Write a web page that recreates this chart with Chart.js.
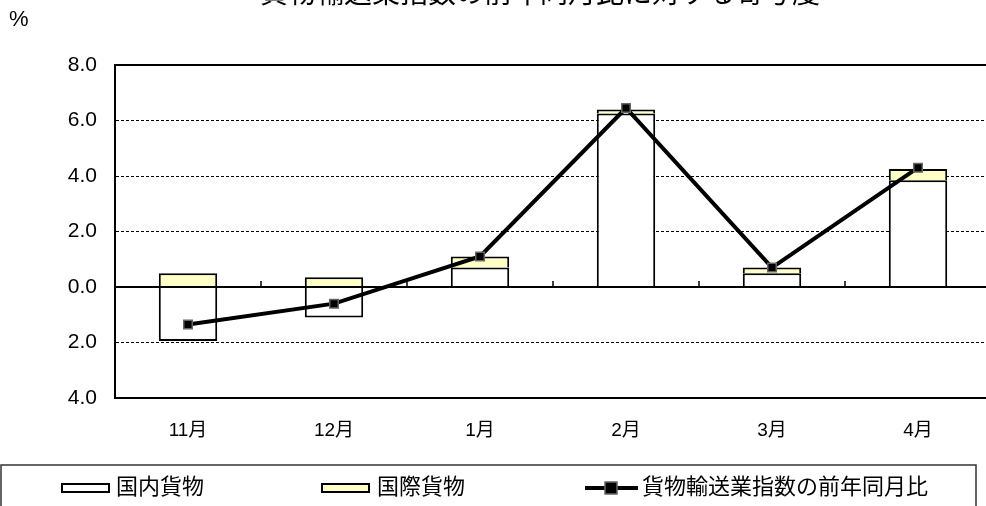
<!DOCTYPE html>
<html>
<head>
<meta charset="utf-8">
<script src="https://cdn.jsdelivr.net/npm/chart.js@4.4.0/dist/chart.umd.min.js"></script>
<style>
html, body { margin: 0; padding: 0; background: #fff; overflow: hidden; width: 986px; height: 506px; }
#wrap { position: absolute; left: 0; top: -20px; width: 1000px; height: 546px; }
</style>
</head>
<body>
<div id="wrap"><canvas id="chart"></canvas></div>
<script>
var months = ['11月', '12月', '1月', '2月', '3月', '4月'];
var domestic = [-1.95, -1.1, 0.7, 6.25, 0.5, 3.85];
var international = [0.5, 0.35, 0.4, 0.15, 0.2, 0.4];
var total = [-1.35, -0.6, 1.1, 6.45, 0.7, 4.3];
var titleText = '貨物輸送業指数の前年同月比に対する寄与度';

var jpFont = '"Liberation Sans", "Noto Sans CJK JP", sans-serif';
var solidAt = [-4, 0, 8];

// title, % unit, small ticks on the zero line, boxed legend
var extras = {
  id: 'extras',
  afterDraw: function (chart) {
    var c = chart.ctx;
    var x = chart.scales.x, y = chart.scales.y;
    c.save();
    c.fillStyle = '#000';
    c.textBaseline = 'middle';
    c.font = '28px ' + jpFont;
    c.textAlign = 'center';
    c.fillText(titleText, 540, 15);
    c.textAlign = 'left';
    c.font = '22px ' + jpFont;
    c.fillText('%', 9, 40);

    // category boundary ticks on the 0 line
    var y0 = y.getPixelForValue(0);
    c.strokeStyle = '#000';
    c.lineWidth = 1.5;
    for (var i = 0; i < months.length - 1; i++) {
      var bx = (x.getPixelForValue(i) + x.getPixelForValue(i + 1)) / 2;
      c.beginPath();
      c.moveTo(bx, y0);
      c.lineTo(bx, y0 - 6);
      c.stroke();
    }

    // legend box
    var ds = chart.data.datasets;
    c.strokeStyle = '#333';
    c.lineWidth = 1.5;
    c.strokeRect(1, 485, 975, 70);
    c.font = '22px ' + jpFont;
    var ly = 508;
    c.lineWidth = 2;
    c.fillStyle = ds[0].backgroundColor;
    c.fillRect(62, ly - 4, 47, 8);
    c.strokeStyle = '#000';
    c.strokeRect(62, ly - 4, 47, 8);
    c.fillStyle = '#000';
    c.fillText(ds[0].label, 116, ly);

    c.fillStyle = ds[1].backgroundColor;
    c.fillRect(322, ly - 4, 47, 8);
    c.strokeRect(322, ly - 4, 47, 8);
    c.fillStyle = '#000';
    c.fillText(ds[1].label, 377, ly);

    c.lineWidth = 4;
    c.beginPath();
    c.moveTo(585, ly);
    c.lineTo(638, ly);
    c.stroke();
    c.fillStyle = '#000';
    c.fillRect(605, ly - 6, 12, 12);
    c.strokeStyle = '#666';
    c.lineWidth = 1.5;
    c.strokeRect(605, ly - 6, 12, 12);
    c.fillStyle = '#000';
    c.fillText(ds[2].label, 642, ly);
    c.restore();
  }
};

var ctx = document.getElementById('chart');
var myChart = new Chart(ctx, {
  type: 'bar',
  data: {
    labels: months,
    datasets: [
      {
        label: '国内貨物',
        data: domestic,
        backgroundColor: '#ffffff',
        borderColor: '#000',
        borderWidth: 2,
        barPercentage: 0.4,
        categoryPercentage: 1,
        stack: 'bars',
        order: 2
      },
      {
        label: '国際貨物',
        data: international,
        backgroundColor: '#ffffc6',
        borderColor: '#000',
        borderWidth: 2,
        barPercentage: 0.4,
        categoryPercentage: 1,
        stack: 'bars',
        order: 2
      },
      {
        type: 'line',
        label: '貨物輸送業指数の前年同月比',
        data: total,
        borderColor: '#000',
        borderWidth: 4,
        tension: 0,
        pointStyle: 'rect',
        pointRadius: 6,
        pointBackgroundColor: '#000',
        pointBorderColor: '#666',
        pointBorderWidth: 1.5,
        stack: 'line',
        order: 0
      }
    ]
  },
  options: {
    responsive: true,
    maintainAspectRatio: false,
    animation: false,
    layout: { padding: { top: 85, right: 9, bottom: 68, left: 0 } },
    plugins: {
      legend: { display: false },
      tooltip: { enabled: false }
    },
    scales: {
      x: {
        stacked: true,
        grid: { display: false },
        border: { display: true, color: '#000', width: 2 },
        ticks: { color: '#000', font: { size: 19, family: jpFont }, padding: 13, maxRotation: 0 },
        afterFit: function (s) { s.height = 60; }
      },
      y: {
        stacked: true,
        min: -4,
        max: 8,
        ticks: {
          stepSize: 2,
          color: '#000',
          padding: 18,
          font: { size: 21, family: jpFont },
          callback: function (v) { return Math.abs(v).toFixed(1); }
        },
        grid: {
          color: '#000',
          drawTicks: false,
          lineWidth: function (c) { return c.tick && solidAt.indexOf(c.tick.value) >= 0 ? 2 : 1; }
        },
        border: {
          color: '#000',
          width: 2,
          dash: function (c) { return c.tick && solidAt.indexOf(c.tick.value) < 0 ? [3, 2] : []; }
        },
        afterFit: function (s) { s.width = 115; }
      }
    }
  },
  plugins: [extras]
});
</script>
</body>
</html>
